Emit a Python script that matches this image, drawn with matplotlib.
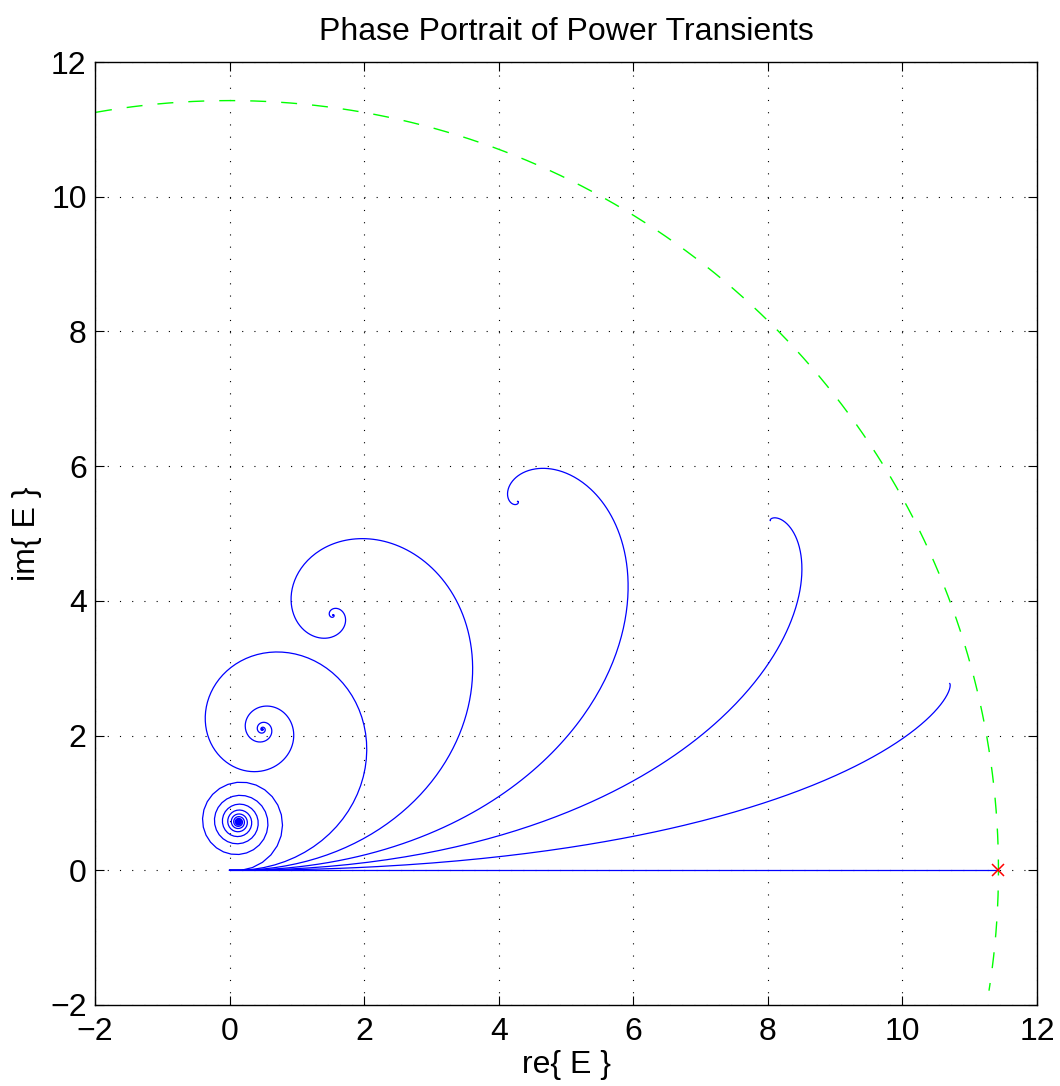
import numpy as np
import matplotlib
matplotlib.use("Agg")
import matplotlib.pyplot as plt

# Cavity parameters: mirror reflectivity and transmission (r^2 + t^2 = 1)
reflectivity = 0.9848
transmission = np.sqrt(1.0 - reflectivity**2)
# Round-trip phase detunings (rad), one trajectory each
detunings = [0.0, 0.004, 0.01, 0.02, 0.04, 0.08, 0.24]
round_trips = 800
# Angular extent (deg) of the maximum-field arc
arc_start_deg, arc_end_deg = 100.0, -9.0
ticks = [-2, 0, 2, 4, 6, 8, 10, 12]

plt.rcParams["font.family"] = ["Liberation Sans", "DejaVu Sans"]
plt.rcParams["lines.scale_dashes"] = False

fig = plt.figure(figsize=(10.60, 10.86), dpi=100)
ax = fig.add_axes([95 / 1060, 1 - 1005 / 1086, (1037 - 95) / 1060, (1005 - 62) / 1086])

def build_up(phi):
    """Field inside the cavity after each round trip."""
    g = reflectivity * np.exp(1j * phi)
    e = np.zeros(round_trips + 1, dtype=complex)
    for n in range(round_trips):
        e[n + 1] = g * e[n] + transmission
    return e

for phi in detunings:
    e = build_up(phi)
    ax.plot(e.real, e.imag, color=(0, 0, 1), lw=0.9, zorder=3)

# Maximum (resonant) field magnitude
e_max = transmission / (1.0 - reflectivity)
theta = np.deg2rad(np.linspace(arc_start_deg, arc_end_deg, 600))
ax.plot(e_max * np.cos(theta), e_max * np.sin(theta), color=(0, 1, 0), lw=1.0,
        linestyle=(0, (11.5, 10.8)), zorder=2)
ax.plot([e_max], [0.0], marker="x", color=(1, 0, 0), ms=9, mew=1.1,
        linestyle="none", zorder=4)

ax.set_xlim(-2, 12)
ax.set_ylim(-2, 12)
ax.set_xticks(ticks)
ax.set_yticks(ticks)
ax.grid(True, color="black", linestyle=(0, (0.8, 8.0)), lw=0.8)
ax.set_axisbelow(True)
ax.tick_params(direction="in", length=6.5, width=0.8, top=True, right=True,
               labelsize=23, pad=6)
ax.tick_params(axis="x", pad=9)
for s in ax.spines.values():
    s.set_linewidth(1.0)

ax.set_title("Phase Portrait of Power Transients", fontsize=23, pad=16)
ax.set_xlabel("re{ E }", fontsize=23, labelpad=2)
ax.set_ylabel("im{ E }", fontsize=23, labelpad=6)

fig.savefig("out.png", dpi=100)
